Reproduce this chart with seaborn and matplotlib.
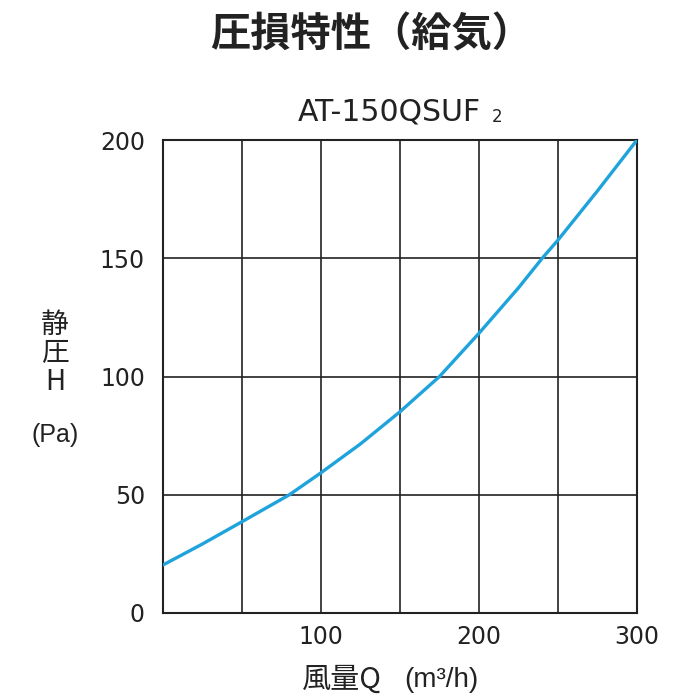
import numpy as np
import pandas as pd
import seaborn as sns
import matplotlib.pyplot as plt

airflow = [0, 25, 50, 80, 100, 125, 150, 175, 200, 225, 240, 250, 275, 300]
pressure = [20.3, 29.2, 38.6, 50.0, 59.3, 71.5, 85.1, 100.0, 118.3, 137.5, 150.0, 157.7, 178.5, 200.0]
x_ticks = [100, 200, 300]
y_ticks = [0, 50, 100, 150, 200]

df = pd.DataFrame({"Q": airflow, "H": pressure})

sns.set_style("white")
plt.rcParams["font.family"] = ["DejaVu Sans", "Noto Sans CJK JP"]
cjk = ["Noto Sans CJK JP", "DejaVu Sans"]
ink = "#222222"

fig = plt.figure(figsize=(7, 7), dpi=100)
ax = fig.add_axes([163 / 700, 87 / 700, 474 / 700, 473 / 700])

# grid lines every 50
for gx in range(50, 300, 50):
    ax.axvline(gx, color=ink, lw=1.2, zorder=1)
for gy in range(50, 200, 50):
    ax.axhline(gy, color=ink, lw=1.2, zorder=1)

sns.lineplot(data=df, x="Q", y="H", ax=ax, color="#1ea3dc", lw=2.4, zorder=3)

ax.set_xlim(0, 300)
ax.set_ylim(0, 200)
ax.set_xticks(x_ticks)
ax.set_yticks(y_ticks)
ax.tick_params(length=0, labelsize=17, colors=ink)
ax.tick_params(axis="y", pad=13)
ax.tick_params(axis="x", pad=9)
ax.set_xlabel("")
ax.set_ylabel("")
for s in ax.spines.values():
    s.set_color(ink)
    s.set_linewidth(1.5)

fig.text(371 / 700, 1 - 35 / 700, "圧損特性（給気）", ha="center", va="center",
         fontsize=29, fontweight="bold", family=cjk, color=ink)
sub = fig.text(298 / 700, 1 - 112 / 700, "AT-150QSUF", ha="left", va="center",
               fontsize=21.5, color=ink)
fig.text(492 / 700, 1 - 117 / 700, "2", ha="left", va="center",
         fontsize=12, color=ink)

# vertical y label
for txt, yy in [("静", 325), ("圧", 352), ("H", 382)]:
    fig.text(55 / 700, 1 - yy / 700, txt, ha="center", va="center",
             fontsize=20, family=cjk, color=ink)
fig.text(55 / 700, 1 - 435 / 700, "(Pa)", ha="center", va="center",
         fontsize=18, family=["Liberation Sans"], color=ink)

fig.text(302 / 700, 1 - 680 / 700, "風量Q", ha="left", va="center",
         fontsize=21, family=cjk, color=ink)
fig.text(404 / 700, 1 - 680 / 700, "(m³/h)", ha="left", va="center",
         fontsize=20, family=["Liberation Sans"], color=ink)

fig.savefig("out.png", dpi=100, facecolor="white")
